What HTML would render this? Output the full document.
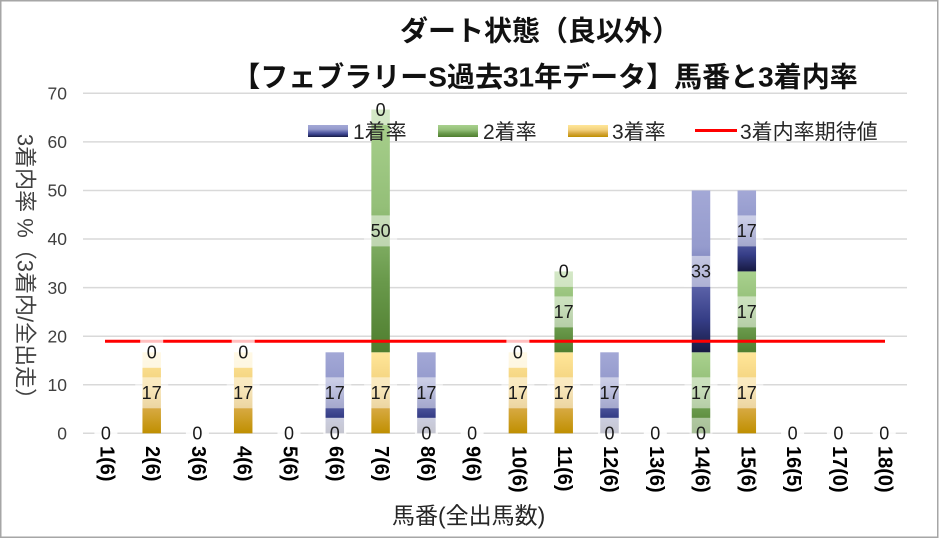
<!DOCTYPE html>
<html><head><meta charset="utf-8"><style>
html,body{margin:0;padding:0;background:#fff;}
svg{display:block;}
text{font-family:"Liberation Sans","Noto Sans CJK JP",sans-serif;}
</style></head><body>
<svg width="940" height="539" viewBox="0 0 940 539" xmlns="http://www.w3.org/2000/svg">
<defs>
<linearGradient id="gb" x1="0" y1="0" x2="0" y2="1">
<stop offset="0" stop-color="#a3a8d6"/><stop offset="0.35" stop-color="#959bcd"/><stop offset="0.6" stop-color="#5a61a7"/><stop offset="0.8" stop-color="#353d86"/><stop offset="1" stop-color="#171a42"/>
</linearGradient>
<linearGradient id="gg" x1="0" y1="0" x2="0" y2="1">
<stop offset="0" stop-color="#a9d18e"/><stop offset="0.4" stop-color="#94bf78"/><stop offset="0.7" stop-color="#6a9a4c"/><stop offset="1" stop-color="#4f7e2f"/>
</linearGradient>
<linearGradient id="gy" x1="0" y1="0" x2="0" y2="1">
<stop offset="0" stop-color="#ffe699"/><stop offset="0.4" stop-color="#f3d27e"/><stop offset="0.7" stop-color="#d7a940"/><stop offset="1" stop-color="#bf8f00"/>
</linearGradient>
</defs>
<rect x="0.75" y="0.75" width="937" height="536.5" fill="#fff" stroke="#a6a6a6" stroke-width="1.5"/>

<!-- gridlines -->
<g stroke="#d9d9d9" stroke-width="1.5">
<line x1="83" y1="93.3" x2="907" y2="93.3"/>
<line x1="83" y1="141.9" x2="907" y2="141.9"/>
<line x1="83" y1="190.5" x2="907" y2="190.5"/>
<line x1="83" y1="239.0" x2="907" y2="239.0"/>
<line x1="83" y1="287.6" x2="907" y2="287.6"/>
<line x1="83" y1="336.2" x2="907" y2="336.2"/>
<line x1="83" y1="384.7" x2="907" y2="384.7"/>
<line x1="83" y1="433.3" x2="907" y2="433.3"/>
</g>

<!-- y tick labels -->
<g font-size="17.5" fill="#404040" text-anchor="end">
<text x="67" y="99.5">70</text>
<text x="67" y="148.1">60</text>
<text x="67" y="196.7">50</text>
<text x="67" y="245.2">40</text>
<text x="67" y="293.8">30</text>
<text x="67" y="342.4">20</text>
<text x="67" y="390.9">10</text>
<text x="67" y="439.5">0</text>
</g>

<!-- bars -->
<rect x="142.45" y="352.3" width="18.5" height="81" fill="url(#gy)"/>
<rect x="233.95" y="352.3" width="18.5" height="81" fill="url(#gy)"/>
<rect x="325.55" y="352.3" width="18.5" height="81" fill="url(#gb)"/>
<rect x="371.35" y="352.3" width="18.5" height="81" fill="url(#gy)"/>
<rect x="371.35" y="109.5" width="18.5" height="242.8" fill="url(#gg)"/>
<rect x="417.15" y="352.3" width="18.5" height="81" fill="url(#gb)"/>
<rect x="508.65" y="352.3" width="18.5" height="81" fill="url(#gy)"/>
<rect x="554.45" y="352.3" width="18.5" height="81" fill="url(#gy)"/>
<rect x="554.45" y="271.4" width="18.5" height="80.9" fill="url(#gg)"/>
<rect x="600.25" y="352.3" width="18.5" height="81" fill="url(#gb)"/>
<rect x="691.75" y="352.3" width="18.5" height="81" fill="url(#gg)"/>
<rect x="691.75" y="190.5" width="18.5" height="161.8" fill="url(#gb)"/>
<rect x="737.55" y="352.3" width="18.5" height="81" fill="url(#gy)"/>
<rect x="737.55" y="271.4" width="18.5" height="80.9" fill="url(#gg)"/>
<rect x="737.55" y="190.5" width="18.5" height="80.9" fill="url(#gb)"/>

<!-- expected value line -->
<line x1="105" y1="341.2" x2="885" y2="341.2" stroke="#ff0000" stroke-width="3"/>

<!-- data label boxes -->
<g fill="#fff">
<rect x="94.4" y="417.8" width="23" height="31" fill-opacity="0.875"/>
<rect x="135.2" y="377.3" width="33" height="31" fill-opacity="0.5"/>
<rect x="140.2" y="336.8" width="23" height="31" fill-opacity="0.75"/>
<rect x="185.9" y="417.8" width="23" height="31" fill-opacity="0.875"/>
<rect x="226.7" y="377.3" width="33" height="31" fill-opacity="0.5"/>
<rect x="231.7" y="336.8" width="23" height="31" fill-opacity="0.75"/>
<rect x="277.5" y="417.8" width="23" height="31" fill-opacity="0.875"/>
<rect x="323.3" y="417.8" width="23" height="31" fill-opacity="0.75"/>
<rect x="318.3" y="377.3" width="33" height="31" fill-opacity="0.5"/>
<rect x="364.1" y="377.3" width="33" height="31" fill-opacity="0.5"/>
<rect x="364.1" y="215.4" width="33" height="31" fill-opacity="0.5"/>
<rect x="369.1" y="94" width="23" height="31" fill-opacity="0.5"/>
<rect x="414.9" y="417.8" width="23" height="31" fill-opacity="0.75"/>
<rect x="409.9" y="377.3" width="33" height="31" fill-opacity="0.5"/>
<rect x="460.6" y="417.8" width="23" height="31" fill-opacity="0.875"/>
<rect x="501.4" y="377.3" width="33" height="31" fill-opacity="0.5"/>
<rect x="506.4" y="336.8" width="23" height="31" fill-opacity="0.75"/>
<rect x="547.2" y="377.3" width="33" height="31" fill-opacity="0.5"/>
<rect x="547.2" y="296.4" width="33" height="31" fill-opacity="0.5"/>
<rect x="552.2" y="255.9" width="23" height="31" fill-opacity="0.5"/>
<rect x="598" y="417.8" width="23" height="31" fill-opacity="0.75"/>
<rect x="593" y="377.3" width="33" height="31" fill-opacity="0.5"/>
<rect x="643.8" y="417.8" width="23" height="31" fill-opacity="0.875"/>
<rect x="689.5" y="417.8" width="23" height="31" fill-opacity="0.5"/>
<rect x="684.5" y="377.3" width="33" height="31" fill-opacity="0.5"/>
<rect x="684.5" y="255.9" width="33" height="31" fill-opacity="0.5"/>
<rect x="730.3" y="377.3" width="33" height="31" fill-opacity="0.5"/>
<rect x="730.3" y="296.4" width="33" height="31" fill-opacity="0.5"/>
<rect x="730.3" y="215.4" width="33" height="31" fill-opacity="0.5"/>
<rect x="781.1" y="417.8" width="23" height="31" fill-opacity="0.875"/>
<rect x="826.9" y="417.8" width="23" height="31" fill-opacity="0.875"/>
<rect x="872.7" y="417.8" width="23" height="31" fill-opacity="0.875"/>
</g>

<!-- data label text -->
<g font-size="18" fill="#1a1a1a" text-anchor="middle">
<text x="105.9" y="439.6">0</text>
<text x="151.7" y="399.1">17</text>
<text x="151.7" y="358.6">0</text>
<text x="197.4" y="439.6">0</text>
<text x="243.2" y="399.1">17</text>
<text x="243.2" y="358.6">0</text>
<text x="289.0" y="439.6">0</text>
<text x="334.8" y="439.6">0</text>
<text x="334.8" y="399.1">17</text>
<text x="380.6" y="399.1">17</text>
<text x="380.6" y="237.2">50</text>
<text x="380.6" y="115.8">0</text>
<text x="426.4" y="439.6">0</text>
<text x="426.4" y="399.1">17</text>
<text x="472.1" y="439.6">0</text>
<text x="517.9" y="399.1">17</text>
<text x="517.9" y="358.6">0</text>
<text x="563.7" y="399.1">17</text>
<text x="563.7" y="318.2">17</text>
<text x="563.7" y="277.7">0</text>
<text x="609.5" y="439.6">0</text>
<text x="609.5" y="399.1">17</text>
<text x="655.3" y="439.6">0</text>
<text x="701.0" y="439.6">0</text>
<text x="701.0" y="399.1">17</text>
<text x="701.0" y="277.7">33</text>
<text x="746.8" y="399.1">17</text>
<text x="746.8" y="318.2">17</text>
<text x="746.8" y="237.2">17</text>
<text x="792.6" y="439.6">0</text>
<text x="838.4" y="439.6">0</text>
<text x="884.2" y="439.6">0</text>
</g>

<!-- x labels -->
<g font-size="20" font-weight="bold" fill="#000">
<text transform="translate(100.4,446) rotate(90)">1(6)</text>
<text transform="translate(146.2,446) rotate(90)">2(6)</text>
<text transform="translate(191.9,446) rotate(90)">3(6)</text>
<text transform="translate(237.7,446) rotate(90)">4(6)</text>
<text transform="translate(283.5,446) rotate(90)">5(6)</text>
<text transform="translate(329.3,446) rotate(90)">6(6)</text>
<text transform="translate(375.1,446) rotate(90)">7(6)</text>
<text transform="translate(420.9,446) rotate(90)">8(6)</text>
<text transform="translate(466.6,446) rotate(90)">9(6)</text>
<text transform="translate(512.4,446) rotate(90)">10(6)</text>
<text transform="translate(558.2,446) rotate(90)">11(6)</text>
<text transform="translate(604.0,446) rotate(90)">12(6)</text>
<text transform="translate(649.8,446) rotate(90)">13(6)</text>
<text transform="translate(695.5,446) rotate(90)">14(6)</text>
<text transform="translate(741.3,446) rotate(90)">15(6)</text>
<text transform="translate(787.1,446) rotate(90)">16(5)</text>
<text transform="translate(832.9,446) rotate(90)">17(0)</text>
<text transform="translate(878.7,446) rotate(90)">18(0)</text>
</g>

<!-- axis titles -->
<text x="392" y="523.5" font-size="23" fill="#262626">馬番(全出馬数)</text>
<text transform="translate(17.3,272) rotate(90)" text-anchor="middle" font-size="22" fill="#404040">3着内率 %（3着内/全出走）</text>

<!-- titles -->
<text x="540" y="40.5" text-anchor="middle" font-size="28" font-weight="bold" fill="#111">ダート状態（良以外）</text>
<text x="545" y="86.5" text-anchor="middle" font-size="28" font-weight="bold" fill="#111">【フェブラリーS過去31年データ】馬番と3着内率</text>

<!-- legend -->
<rect x="308" y="125" width="40" height="12" fill="url(#gb)"/>
<text x="353" y="139" font-size="21" fill="#262626">1着率</text>
<rect x="438" y="125" width="40" height="12" fill="url(#gg)"/>
<text x="483" y="139" font-size="21" fill="#262626">2着率</text>
<rect x="568" y="125" width="40" height="12" fill="url(#gy)"/>
<text x="612" y="139" font-size="21" fill="#262626">3着率</text>
<line x1="695" y1="130.5" x2="737" y2="130.5" stroke="#ff0000" stroke-width="3"/>
<text x="740" y="139" font-size="21" fill="#262626">3着内率期待値</text>
</svg>
</body></html>
